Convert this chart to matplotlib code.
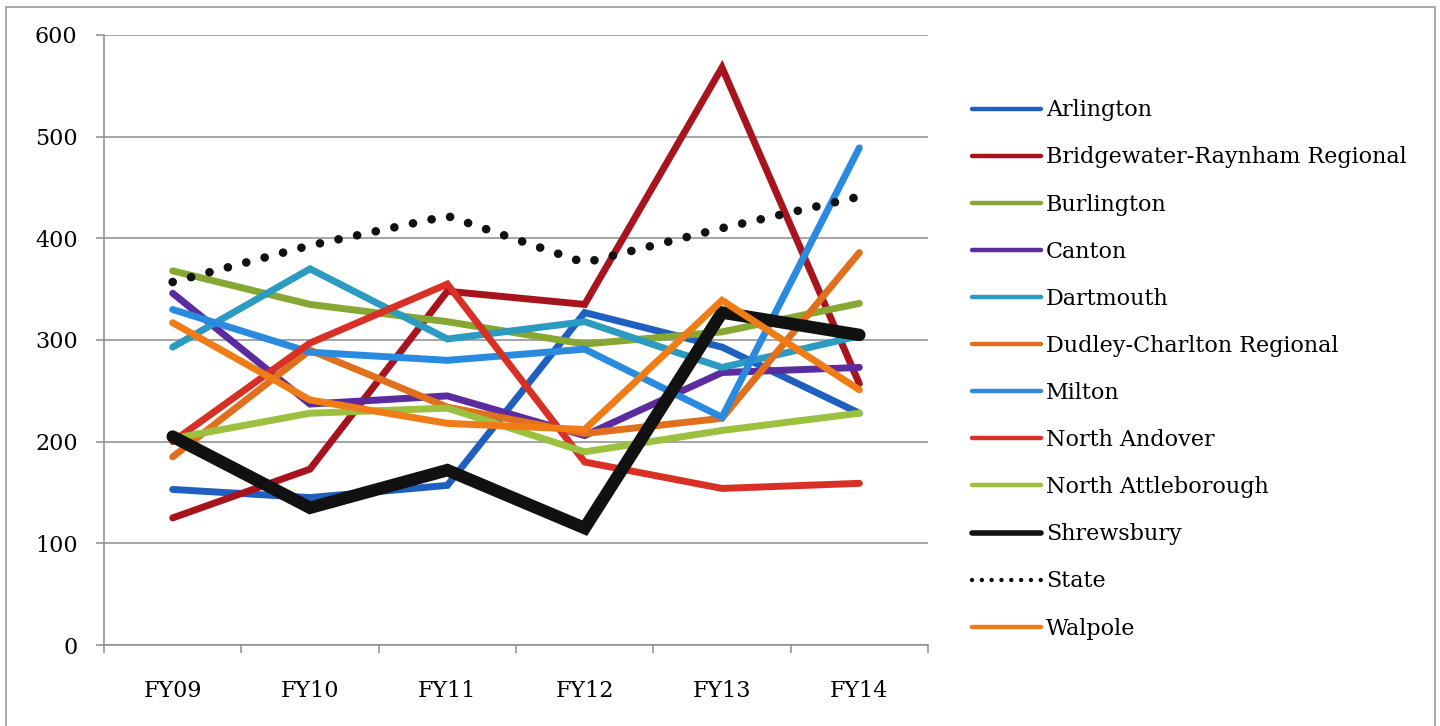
import matplotlib
matplotlib.use("Agg")
import matplotlib.pyplot as plt
from matplotlib.lines import Line2D
from matplotlib.patches import Rectangle

# ── Data ─────────────────────────────────────────────────────────────────────
years = ["FY09", "FY10", "FY11", "FY12", "FY13", "FY14"]

arlington = [153, 145, 157, 327, 293, 228]
bridgewater = [125, 173, 348, 335, 568, 257]
burlington = [368, 335, 318, 296, 308, 336]
canton = [346, 237, 245, 206, 268, 273]
dartmouth = [293, 370, 301, 318, 273, 304]
dudley = [185, 290, 234, 208, 223, 386]
milton = [330, 288, 280, 291, 224, 489]
north_andover = [200, 297, 355, 180, 154, 159]
north_attleborough = [203, 228, 233, 190, 211, 228]
shrewsbury = [205, 135, 172, 115, 327, 305]
state = [357, 393, 422, 376, 410, 441]
walpole = [317, 241, 218, 212, 339, 251]

names = ["Arlington", "Bridgewater-Raynham Regional", "Burlington", "Canton",
         "Dartmouth", "Dudley-Charlton Regional", "Milton", "North Andover",
         "North Attleborough", "Shrewsbury", "State", "Walpole"]
series = [arlington, bridgewater, burlington, canton, dartmouth, dudley,
          milton, north_andover, north_attleborough, shrewsbury, state, walpole]
colors = ["#1f5fbf", "#a8141e", "#86a832", "#5a2ca0", "#2b9bc1", "#e0701e",
          "#2a8ae0", "#d93025", "#9cc040", "#111111", "#111111", "#f07c18"]

plt.rcParams["font.family"] = ["DejaVu Serif"]

fig = plt.figure(figsize=(14.4, 7.26), dpi=100)
ax = fig.add_axes([104 / 1440, 1 - 645 / 726, 824 / 1440, 610 / 726])

# outer chart border
fig.patches.append(Rectangle((6 / 1440, -0.1), 1429 / 1440, 1.1 - 7 / 726,
                             transform=fig.transFigure, fill=False,
                             edgecolor="#9a9a9a", linewidth=1.2))

x = list(range(len(years)))
handles = []
for name, vals, col in zip(names, series, colors):
    if name == "State":
        ax.plot(x, vals, color=col, linewidth=6.2, linestyle=(0, (0.01, 2.2)),
                dash_capstyle="round", zorder=3)
        h = Line2D([], [], color=col, linewidth=3.2, linestyle=(0, (0.01, 2.2)),
                   dash_capstyle="round")
    elif name == "Shrewsbury":
        ax.plot(x, vals, color=col, linewidth=9, solid_capstyle="round",
                solid_joinstyle="miter", zorder=3)
        h = Line2D([], [], color=col, linewidth=4, solid_capstyle="round")
    else:
        ax.plot(x, vals, color=col, linewidth=5, solid_capstyle="round",
                solid_joinstyle="miter", zorder=3)
        h = Line2D([], [], color=col, linewidth=3.2, solid_capstyle="round")
    handles.append(h)

# ── Axes styling ─────────────────────────────────────────────────────────────
ax.set_xlim(-0.5, len(years) - 0.5)
ax.set_ylim(0, 600)
ax.set_yticks(range(0, 601, 100))
ax.yaxis.grid(True, color="#8c8c8c", linewidth=1.1)
ax.set_axisbelow(True)
for side in ("top", "right"):
    ax.spines[side].set_visible(False)
for side in ("left", "bottom"):
    ax.spines[side].set_color("#8c8c8c")
    ax.spines[side].set_linewidth(1.1)

ax.set_xticks([i - 0.5 for i in range(len(years) + 1)])
ax.set_xticklabels([])
ax.set_xticks(x, minor=True)
ax.set_xticklabels(years, minor=True)
ax.tick_params(axis="x", which="major", length=6, color="#8c8c8c", width=1.1)
ax.tick_params(axis="x", which="minor", length=0, pad=25, labelsize=16)
ax.tick_params(axis="y", length=6, color="#8c8c8c", width=1.1, pad=13,
               labelsize=16)

leg = fig.legend(handles, names, loc="center left",
                 bbox_to_anchor=(963 / 1440, 1 - 369.5 / 726),
                 frameon=False, fontsize=16, handlelength=3.1,
                 handletextpad=0.22, labelspacing=1.13, borderaxespad=0)

fig.savefig("out.png", dpi=100, facecolor="white")
